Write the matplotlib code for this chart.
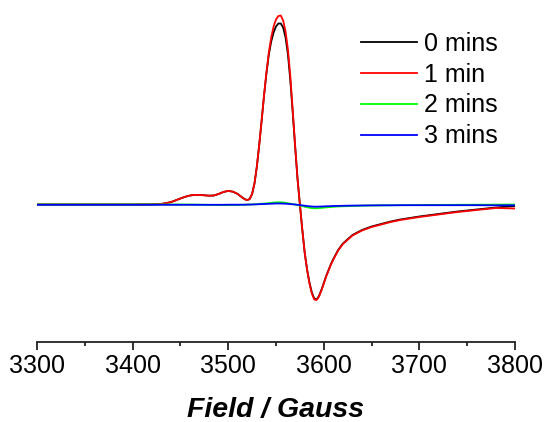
import matplotlib
matplotlib.use("Agg")
import matplotlib.pyplot as plt
from matplotlib.ticker import MultipleLocator

plt.rcParams['font.family'] = ['Liberation Sans', 'DejaVu Sans']

# field axis (Gauss)
field = [3300, 3350, 3400, 3420, 3430, 3440, 3450, 3455, 3460, 3465,
         3470, 3475, 3480, 3485, 3490, 3495, 3500, 3505, 3510, 3515,
         3517.5, 3520, 3522.5, 3525, 3527.5, 3530, 3532.5, 3535, 3537.5, 3540,
         3542.5, 3545, 3547.5, 3550, 3552.5, 3555, 3557.5, 3560, 3562.5, 3565,
         3567.5, 3570, 3572.5, 3575, 3577.5, 3580, 3582.5, 3585, 3587.5, 3590,
         3592.5, 3595, 3597.5, 3600, 3602.5, 3605, 3607.5, 3610,
         3615, 3620, 3630, 3640, 3650, 3660, 3670, 3680, 3700, 3720,
         3740, 3760, 3780, 3800]

# EPR signal, arbitrary units
sig_0 = [0, 0, 0, 0.1, 0.5, 2.3, 6, 7.7, 9, 9.6,
         9.6, 9.2, 8.8, 9, 10.5, 12.5, 13.6, 12.8, 10.5, 6.8,
         5.2, 4.4, 5.5, 10.5, 21, 38, 60, 84, 109, 131,
         150, 163, 172, 178, 181, 181, 177, 167, 150, 124,
         92, 58, 26, 0, -25, -48, -65, -78, -88, -94,
         -95, -91.5, -85.5, -78.5, -71.5, -65.5, -59.5, -54.5,
         -45.5, -39, -30.5, -25.5, -22, -19.5, -17, -15, -12, -9.5,
         -7, -5, -3, -1.5]
sig_1 = [0, 0, 0, 0.1, 0.5, 2.3, 6, 7.7, 9, 9.6,
         9.6, 9.2, 8.8, 9, 10.5, 12.5, 13.6, 12.8, 10.5, 6.8,
         5.2, 4.4, 5.5, 10.5, 21, 38, 60, 84, 109, 132,
         152, 167, 178, 185, 188.5, 189, 184, 173, 155, 128,
         94, 59, 26, 0, -25, -48, -65, -79, -89, -95,
         -95.5, -92, -86, -79, -72, -66, -60, -55,
         -46, -39.5, -31, -26, -22.5, -20, -17.5, -15.5, -12.5, -10,
         -7.5, -5.5, -3.5, -4]
sig_2 = [0, 0, 0, 0, 0, 0, 0, 0, 0, -0.1,
         -0.2, -0.3, -0.4, -0.5, -0.5, -0.6, -0.6, -0.5, -0.4, -0.3,
         -0.2, -0.1, 0, 0.1, 0.2, 0.3, 0.5, 0.7, 0.9, 1.1,
         1.4, 1.7, 1.9, 2.1, 2.2, 2.2, 2.0, 1.7, 1.3, 0.9,
         0.4, 0, -0.5, -1.0, -1.6, -2.2, -2.7, -3.2, -3.6, -3.8,
         -3.8, -3.6, -3.4, -3.1, -2.9, -2.7, -2.5, -2.3,
         -2.0, -1.8, -1.5, -1.2, -1.0, -0.9, -0.8, -0.7, -0.5, -0.4,
         -0.3, -0.2, -0.1, 0]
sig_3 = [-0.3, -0.3, -0.3, -0.3, -0.3, -0.3, -0.3, -0.3, -0.3, -0.3,
         -0.3, -0.3, -0.3, -0.3, -0.3, -0.3, -0.2, -0.2, -0.2, -0.2,
         -0.2, -0.1, -0.1, 0, 0.1, 0.2, 0.3, 0.4, 0.5, 0.6,
         0.7, 0.8, 0.9, 1.0, 1.0, 1.0, 0.9, 0.8, 0.6, 0.4,
         0.2, 0, -0.3, -0.6, -0.9, -1.2, -1.5, -1.8, -2.0, -2.2,
         -2.2, -2.1, -2.0, -1.9, -1.8, -1.7, -1.6, -1.5,
         -1.4, -1.3, -1.1, -1.0, -0.9, -0.8, -0.8, -0.7, -0.7, -0.7,
         -0.7, -0.7, -0.8, -0.8]

labels = ['0 mins', '1 min', '2 mins', '3 mins']
colors = ['black', '#ff0000', '#00ff00', '#0000ff']

fig = plt.figure(figsize=(5.47, 4.22), dpi=100)
ax = fig.add_axes([0.0676, 0.1896, 0.8739, 0.8104])

for s, lab, c in zip([sig_0, sig_1, sig_2, sig_3], labels, colors):
    ax.plot(field, s, color=c, lw=1.3, label=lab)

ax.set_xlim(3300, 3800)
ax.set_ylim(-137.5, 204.5)

for sp in ['top', 'right', 'left']:
    ax.spines[sp].set_visible(False)
ax.spines['bottom'].set_linewidth(1.3)
ax.spines['bottom'].set_color('#222222')
ax.set_yticks([])
ax.xaxis.set_major_locator(MultipleLocator(100))
ax.xaxis.set_minor_locator(MultipleLocator(50))
ax.tick_params(axis='x', which='major', direction='out', length=6, width=1.3,
               labelsize=18, pad=3, color='#222222')
ax.tick_params(axis='x', which='minor', direction='out', length=3, width=1.3,
               color='#222222')
ax.set_xlabel('Field / Gauss', fontsize=20.5, fontweight='bold', style='italic',
              labelpad=13)

ax.legend(loc='upper left', bbox_to_anchor=(361 / 547, 1 - 32 / 422),
          bbox_transform=fig.transFigure, frameon=False,
          fontsize=18, handlelength=2.24, handletextpad=0.28, labelspacing=0.27,
          borderaxespad=0, borderpad=0)

fig.savefig('out.png', dpi=100)
